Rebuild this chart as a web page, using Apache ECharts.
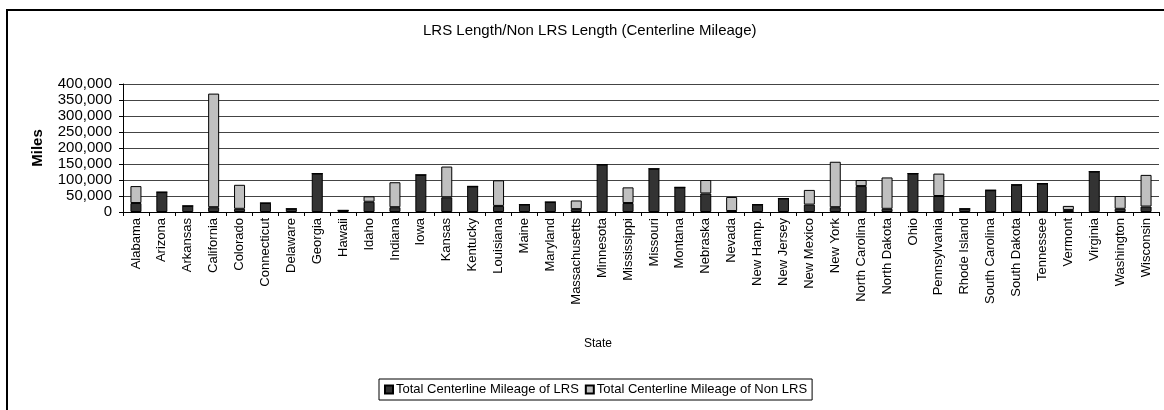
<!DOCTYPE html>
<html>
<head>
<meta charset="utf-8">
<title>LRS Length</title>
<script src="https://cdn.jsdelivr.net/npm/echarts@6/dist/echarts.min.js"></script>
<style>
    html, body { margin: 0; padding: 0; background: #fff; }
    #chart { width: 1164px; height: 410px; }
</style>
</head>
<body>
<div id="chart"></div>
<script>
var states = ['Alabama', 'Arizona', 'Arkansas', 'California', 'Colorado', 'Connecticut', 'Delaware',
    'Georgia', 'Hawaii', 'Idaho', 'Indiana', 'Iowa', 'Kansas', 'Kentucky', 'Louisiana', 'Maine',
    'Maryland', 'Massachusetts', 'Minnesota', 'Mississippi', 'Missouri', 'Montana', 'Nebraska',
    'Nevada', 'New Hamp.', 'New Jersey', 'New Mexico', 'New York', 'North Carolina', 'North Dakota',
    'Ohio', 'Pennsylvania', 'Rhode Island', 'South Carolina', 'South Dakota', 'Tennessee', 'Vermont',
    'Virginia', 'Washington', 'Wisconsin'];
// miles
var lrsMiles = [28000, 62000, 19000, 15000, 10000, 28000, 10000,
    120000, 5000, 32000, 15000, 116000, 46000, 80000, 19000, 23000,
    31000, 9000, 148000, 28000, 135000, 77000, 58000,
    3000, 23000, 42000, 23000, 15000, 81000, 10000,
    120000, 50000, 10000, 68000, 85000, 89000, 6000,
    126000, 10000, 17000];
var nonLrsMiles = [53000, 0, 0, 355000, 75000, 0, 0,
    0, 0, 17000, 78000, 0, 96000, 0, 80000, 0,
    0, 27000, 0, 49000, 0, 0, 42000,
    44000, 0, 0, 46000, 142000, 19000, 98000,
    0, 70000, 0, 0, 0, 0, 13000,
    0, 40000, 99000];
var seriesNames = ['Total Centerline Mileage of LRS', 'Total Centerline Mileage of Non LRS'];

var font = 'Liberation Sans, Arial, sans-serif';

function withCommas(v) {
    return String(v).replace(/\B(?=(\d{3})+(?!\d))/g, ',');
}

var chart = echarts.init(document.getElementById('chart'));
var option = {
    animation: false,
    title: [{
        text: 'LRS Length/Non LRS Length (Centerline Mileage)',
        left: 423,
        top: 23,
        padding: 0,
        textStyle: { fontFamily: font, fontSize: 15, fontWeight: 'normal', color: '#000' }
    }, {
        text: 'State',
        left: 584,
        top: 338,
        padding: 0,
        textStyle: { fontFamily: font, fontSize: 12, fontWeight: 'normal', color: '#000' }
    }],
    legend: {
        data: seriesNames,
        left: 379,
        top: 379,
        padding: [4, 5, 4, 5],
        itemGap: 6,
        itemWidth: 8,
        itemHeight: 8,
        icon: 'rect',
        borderColor: '#000',
        borderWidth: 1,
        textStyle: { fontFamily: font, fontSize: 13, color: '#000', padding: [0, 0, 0, -2] }
    },
    graphic: [{
        // outer chart frame, cut off at right and bottom
        type: 'rect',
        shape: { x: 7, y: 10, width: 1300, height: 600 },
        style: { fill: 'none', stroke: '#000', lineWidth: 2 },
        silent: true
    }],
    grid: {
        left: 123,
        right: 5,
        top: 84,
        bottom: 198
    },
    xAxis: {
        type: 'category',
        data: states,
        axisLine: { lineStyle: { color: '#000', width: 1 } },
        axisTick: { show: true, length: 4, lineStyle: { color: '#000' } },
        axisLabel: {
            rotate: 90,
            interval: 0,
            margin: 6,
            fontFamily: font,
            fontSize: 13,
            color: '#000'
        }
    },
    yAxis: {
        type: 'value',
        min: 0,
        max: 400000,
        interval: 50000,
        name: 'Miles',
        nameLocation: 'middle',
        nameGap: 78,
        nameTextStyle: { fontFamily: font, fontSize: 15, fontWeight: 'bold', color: '#000' },
        axisLine: { show: true, lineStyle: { color: '#000', width: 1 } },
        axisTick: { show: true, length: 4, lineStyle: { color: '#000' } },
        splitLine: { lineStyle: { color: '#444', width: 1 } },
        axisLabel: {
            margin: 11,
            fontFamily: font,
            fontSize: 15,
            color: '#000',
            formatter: withCommas
        }
    },
    series: [{
        name: seriesNames[0],
        type: 'bar',
        stack: 'miles',
        barWidth: 11,
        data: lrsMiles,
        itemStyle: { color: '#333333', borderColor: '#000', borderWidth: 1 }
    }, {
        name: seriesNames[1],
        type: 'bar',
        stack: 'miles',
        barWidth: 11,
        data: nonLrsMiles,
        itemStyle: { color: '#c0c0c0', borderColor: '#000', borderWidth: 1 }
    }]
};
chart.setOption(option);
</script>
</body>
</html>
